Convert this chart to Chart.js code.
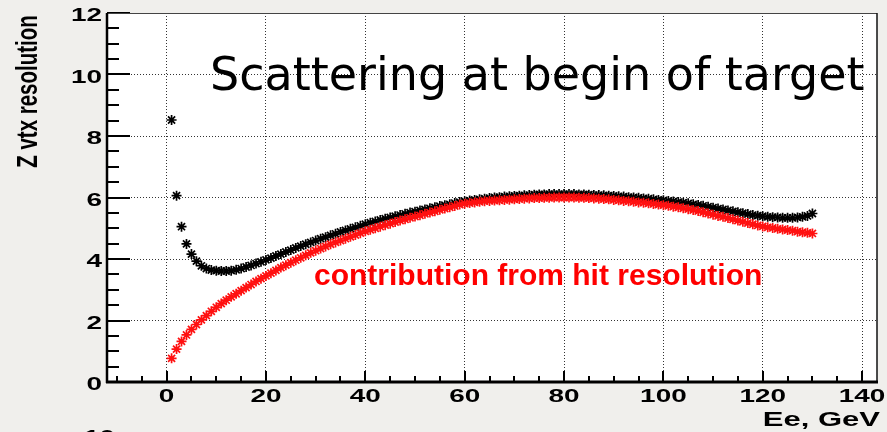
<!DOCTYPE html>
<html>
<head>
<meta charset="utf-8">
<script src="https://cdn.jsdelivr.net/npm/chart.js@4.4.1/dist/chart.umd.min.js"></script>
<style>
  html, body { margin: 0; padding: 0; background: #f0efec; }
  canvas { display: block; }
</style>
</head>
<body>
<canvas id="zvtxChart" width="887" height="432"></canvas>
<script>
// Electron energy, GeV (one point per GeV)
const energies = [
  1, 2, 3, 4, 5, 6, 7, 8, 9, 10, 11, 12, 13, 14, 15, 16, 17, 18, 19, 20,
  21, 22, 23, 24, 25, 26, 27, 28, 29, 30, 31, 32, 33, 34, 35, 36, 37, 38, 39, 40,
  41, 42, 43, 44, 45, 46, 47, 48, 49, 50, 51, 52, 53, 54, 55, 56, 57, 58, 59, 60,
  61, 62, 63, 64, 65, 66, 67, 68, 69, 70, 71, 72, 73, 74, 75, 76, 77, 78, 79, 80,
  81, 82, 83, 84, 85, 86, 87, 88, 89, 90, 91, 92, 93, 94, 95, 96, 97, 98, 99, 100,
  101, 102, 103, 104, 105, 106, 107, 108, 109, 110, 111, 112, 113, 114, 115, 116, 117, 118, 119, 120,
  121, 122, 123, 124, 125, 126, 127, 128, 129, 130
];

// total Z vertex resolution (black stars)
const totalRes = [
  8.52, 6.06, 5.05, 4.49, 4.16, 3.93, 3.78, 3.69, 3.64, 3.62, 3.61, 3.61, 3.62, 3.65, 3.69, 3.74, 3.79, 3.85, 3.91, 3.97,
  4.03, 4.10, 4.16, 4.23, 4.29, 4.36, 4.42, 4.48, 4.54, 4.60, 4.66, 4.71, 4.77, 4.82, 4.88, 4.93, 4.98, 5.03, 5.08, 5.13,
  5.18, 5.22, 5.27, 5.31, 5.35, 5.39, 5.43, 5.47, 5.51, 5.54, 5.58, 5.61, 5.65, 5.68, 5.72, 5.75, 5.78, 5.82, 5.85, 5.88,
  5.90, 5.92, 5.94, 5.96, 5.98, 6.00, 6.01, 6.03, 6.04, 6.05, 6.06, 6.07, 6.08, 6.09, 6.10, 6.10, 6.11, 6.11, 6.11, 6.11,
  6.11, 6.11, 6.10, 6.10, 6.09, 6.08, 6.08, 6.07, 6.06, 6.05, 6.04, 6.03, 6.01, 6.00, 5.99, 5.97, 5.96, 5.94, 5.92, 5.91,
  5.89, 5.87, 5.85, 5.83, 5.81, 5.78, 5.76, 5.73, 5.70, 5.67, 5.64, 5.61, 5.58, 5.55, 5.52, 5.49, 5.46, 5.43, 5.41, 5.39,
  5.37, 5.36, 5.35, 5.34, 5.34, 5.34, 5.35, 5.37, 5.40, 5.48
];

// contribution from hit resolution (red stars)
const hitRes = [
  0.77, 1.07, 1.32, 1.53, 1.71, 1.87, 2.02, 2.16, 2.30, 2.43, 2.55, 2.66, 2.77, 2.87, 2.97, 3.07, 3.17, 3.27, 3.36, 3.45,
  3.54, 3.63, 3.72, 3.80, 3.88, 3.96, 4.04, 4.12, 4.20, 4.27, 4.34, 4.41, 4.48, 4.54, 4.60, 4.66, 4.72, 4.78, 4.84, 4.90,
  4.95, 5.00, 5.05, 5.10, 5.15, 5.20, 5.25, 5.29, 5.34, 5.38, 5.42, 5.47, 5.51, 5.55, 5.60, 5.64, 5.68, 5.72, 5.77, 5.80,
  5.82, 5.84, 5.86, 5.88, 5.89, 5.90, 5.91, 5.92, 5.93, 5.94, 5.95, 5.96, 5.97, 5.98, 5.98, 5.99, 5.99, 6.00, 6.00, 6.00,
  6.00, 6.00, 5.99, 5.99, 5.98, 5.97, 5.96, 5.95, 5.94, 5.92, 5.91, 5.89, 5.88, 5.86, 5.84, 5.83, 5.81, 5.79, 5.77, 5.75,
  5.73, 5.70, 5.68, 5.65, 5.62, 5.59, 5.56, 5.52, 5.48, 5.44, 5.40, 5.37, 5.33, 5.29, 5.25, 5.21, 5.17, 5.13, 5.09, 5.06,
  5.03, 5.01, 4.98, 4.96, 4.94, 4.92, 4.89, 4.87, 4.85, 4.83
];

const xTickLabels = [0, 20, 40, 60, 80, 100, 120, 140];
const yTickLabels = [0, 2, 4, 6, 8, 10, 12];

const xTitle = "Ee, GeV";
const yTitle = "Z vtx resolution";
const noteTop = "Scattering at begin of target";
const noteRed = "contribution from hit resolution";
const nextPadLabel = "10";

const LABEL_FONT = "'Liberation Sans', Arial, sans-serif";

// draw text stretched horizontally like the original picture
function wideText(ctx, txt, x, y, sx, align, font, color) {
  ctx.save();
  ctx.translate(x, y);
  ctx.scale(sx, 1);
  ctx.font = font;
  ctx.fillStyle = color;
  ctx.textAlign = align;
  ctx.textBaseline = "alphabetic";
  ctx.fillText(txt, 0, 0);
  ctx.restore();
}

// ROOT style frame: white pad, inward ticks, labels
const rootFrame = {
  id: "rootFrame",
  beforeDraw(chart) {
    const { ctx, chartArea: ca } = chart;
    ctx.save();
    ctx.fillStyle = "#ffffff";
    ctx.fillRect(ca.left, ca.top, ca.right - ca.left, ca.bottom - ca.top);
    ctx.restore();
  },
  afterDraw(chart) {
    const { ctx, chartArea: ca } = chart;
    const xs = chart.scales.x;
    const ys = chart.scales.y;

    ctx.save();
    ctx.strokeStyle = "#000";
    ctx.lineWidth = 2;

    // y ticks, pointing inside
    for (let v = 0; v <= 12; v += 0.5) {
      const len = v % 2 === 0 ? 23 : 12;
      const py = Math.round(ys.getPixelForValue(v));
      ctx.beginPath();
      ctx.moveTo(ca.left, py);
      ctx.lineTo(ca.left + len, py);
      ctx.stroke();
    }

    // x ticks
    for (let v = -10; v <= 140; v += 5) {
      const len = v % 20 === 0 ? 11 : 6;
      const px = Math.round(xs.getPixelForValue(v));
      ctx.beginPath();
      ctx.moveTo(px, ca.bottom);
      ctx.lineTo(px, ca.bottom - len);
      ctx.stroke();
    }

    // frame
    ctx.lineWidth = 1;
    ctx.strokeStyle = "#444";
    ctx.beginPath();
    ctx.moveTo(ca.left, ca.top + 0.5);
    ctx.lineTo(ca.right, ca.top + 0.5);
    ctx.stroke();

    ctx.lineWidth = 1.5;
    ctx.strokeStyle = "#111";
    ctx.beginPath();
    ctx.moveTo(ca.right, ca.top);
    ctx.lineTo(ca.right, ca.bottom);
    ctx.stroke();

    ctx.lineWidth = 2.5;
    ctx.strokeStyle = "#000";
    ctx.beginPath();
    ctx.moveTo(ca.left, ca.top);
    ctx.lineTo(ca.left, ca.bottom + 1);
    ctx.stroke();

    ctx.lineWidth = 3;
    ctx.beginPath();
    ctx.moveTo(ca.left - 1, ca.bottom);
    ctx.lineTo(ca.right + 1, ca.bottom);
    ctx.stroke();
    ctx.restore();

    // tick labels
    const tickFont = "bold 18px " + LABEL_FONT;
    xTickLabels.forEach(v => {
      wideText(ctx, String(v), xs.getPixelForValue(v), ca.bottom + 20, 1.55, "center", tickFont, "#000");
    });
    yTickLabels.forEach(v => {
      wideText(ctx, String(v), ca.left - 5, ys.getPixelForValue(v) + 8, 1.55, "right", tickFont, "#000");
    });

    // axis titles
    wideText(ctx, xTitle, 880, 426, 1.55, "right", "bold 20px " + LABEL_FONT, "#000");

    ctx.save();
    ctx.translate(36.5, 91.5);
    ctx.scale(1.45, 1);
    ctx.rotate(-Math.PI / 2);
    ctx.font = "bold 20.5px " + LABEL_FONT;
    ctx.fillStyle = "#000";
    ctx.textAlign = "center";
    ctx.textBaseline = "alphabetic";
    ctx.fillText(yTitle, 0, 0);
    ctx.restore();

    // annotations
    ctx.save();
    ctx.font = "46px 'DejaVu Sans', sans-serif";
    ctx.fillStyle = "#000";
    ctx.textBaseline = "alphabetic";
    ctx.fillText(noteTop, 210, 90);
    ctx.font = "bold 30px " + LABEL_FONT;
    ctx.fillStyle = "#ff0000";
    ctx.fillText(noteRed, 314, 285);
    ctx.restore();

    // label of the pad below, mostly cut off
    wideText(ctx, nextPadLabel, 115, 443, 1.55, "right", tickFont, "#000");
  }
};

const toPoints = ys => energies.map((e, i) => ({ x: e, y: ys[i] }));

new Chart(document.getElementById("zvtxChart").getContext("2d"), {
  type: "scatter",
  data: {
    datasets: [
      {
        label: noteRed,
        data: toPoints(hitRes),
        pointStyle: "star",
        pointRadius: 5,
        borderWidth: 1.7,
        borderColor: "#ff1010",
        backgroundColor: "#ff1010"
      },
      {
        label: "total",
        data: toPoints(totalRes),
        pointStyle: "star",
        pointRadius: 5,
        borderWidth: 1.7,
        borderColor: "#000",
        backgroundColor: "#000"
      }
    ]
  },
  options: {
    responsive: false,
    animation: false,
    layout: { padding: { left: 107, top: 13, right: 10, bottom: 50 } },
    plugins: {
      legend: { display: false },
      tooltip: { enabled: false }
    },
    scales: {
      x: {
        type: "linear",
        min: -12,
        max: 143,
        ticks: { display: false, stepSize: 20, includeBounds: false },
        grid: { drawTicks: false, color: "#333", lineWidth: 1 },
        border: { display: false, dash: [1, 2] },
        afterFit: s => { s.height = 0; }
      },
      y: {
        type: "linear",
        min: 0,
        max: 12,
        ticks: { display: false, stepSize: 2, includeBounds: false },
        grid: { drawTicks: false, color: "#333", lineWidth: 1 },
        border: { display: false, dash: [1, 2] },
        afterFit: s => { s.width = 0; }
      }
    }
  },
  plugins: [rootFrame]
});
</script>
</body>
</html>
